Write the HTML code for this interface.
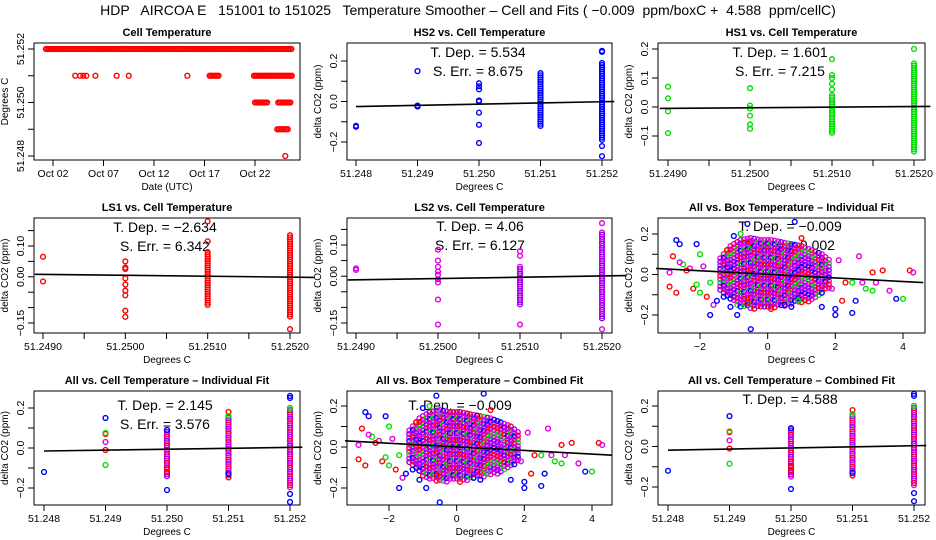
<!DOCTYPE html>
<html><head><meta charset="utf-8"><style>
html,body{margin:0;padding:0;background:#fff}
svg{display:block;font-family:"Liberation Sans",sans-serif}
</style></head><body>
<svg id="chart" width="936" height="540" viewBox="0 0 936 540" xmlns="http://www.w3.org/2000/svg">
<text x="468" y="15" text-anchor="middle" font-size="14" style="white-space:pre">HDP   AIRCOA E   151001 to 151025   Temperature Smoother – Cell and Fits ( −0.009  ppm/boxC +  4.588  ppm/cellC)</text>
</svg>
<script>
// ---------- DATA ----------
const cellRuns = [[1.3,25.7,51.252],[21.9,25.7,51.251],[22.0,23.2,51.250],[24.3,25.6,51.250],[24.2,25.3,51.249],[17.5,18.5,51.251]];
const cellSingles = [[4.2,51.251],[4.7,51.251],[5.0,51.251],[5.3,51.251],[6.2,51.251],[8.3,51.251],[9.5,51.251],[15.3,51.251],[25.0,51.248]];
const dayTicks = [2,7,12,17,22];
const dayLabels = ["Oct 02","Oct 07","Oct 12","Oct 17","Oct 22"];

const hs2X = [51.248,51.248,51.249,51.249,51.249,51.250,51.250,51.250,51.250,51.250,51.250,51.250,51.250,51.252,51.252,51.252,51.252,51.252];
const hs2Y = [-0.12,-0.125,0.15,-0.02,-0.025,0.09,0.075,0.06,0.005,0,-0.055,-0.115,-0.205,0.25,0.245,0.19,-0.22,-0.27];
const hs2ColX = [51.251,51.252];
const hs2ColLo = [-0.13,-0.19];
const hs2ColHi = [0.14,0.18];
const hs2Fit = [-0.025,0.0];

const hs1X = [51.249,51.249,51.249,51.249,51.250,51.250,51.250,51.250,51.250,51.250,51.251,51.251,51.251,51.251,51.251,51.252];
const hs1Y = [0.07,0.03,-0.015,-0.09,0.065,0.005,-0.005,-0.03,-0.06,-0.075,0.11,0.1,0.08,0.06,0.165,0.2];
const hs1ColX = [51.251,51.252];
const hs1ColLo = [-0.09,-0.16];
const hs1ColHi = [0.04,0.15];
const hs1Fit = [-0.005,0.002];

const ls1X = [51.249,51.249,51.250,51.250,51.250,51.250,51.250,51.250,51.250,51.250,51.250,51.251,51.251,51.252];
const ls1Y = [0.065,-0.015,0.05,0.03,0.025,-0.005,-0.025,-0.045,-0.06,-0.11,-0.13,0.115,0.18,-0.17];
const ls1ColX = [51.251,51.252];
const ls1ColLo = [-0.095,-0.13];
const ls1ColHi = [0.08,0.135];
const ls1Fit = [0.008,-0.002];

const ls2X = [51.249,51.249,51.250,51.250,51.250,51.250,51.250,51.250,51.250,51.250,51.250,51.251,51.251,51.251,51.252,51.252];
const ls2Y = [0.025,0.02,0.085,0.05,0.03,0.015,0.005,-0.01,-0.02,-0.075,-0.155,0.08,0.065,-0.155,0.17,-0.17];
const ls2ColX = [51.251,51.252];
const ls2ColLo = [-0.09,-0.14];
const ls2ColHi = [0.03,0.14];
const ls2Fit = [-0.012,0.002];

const allX = [51.248,51.249,51.249,51.249,51.249,51.249,51.249,51.250,51.250,51.250,51.250,51.251,51.251,51.251,51.252,51.252,51.252,51.252,51.252];
const allY = [-0.12,0.15,0.07,0.075,0.03,-0.01,-0.085,-0.21,-0.12,-0.1,0.09,0.18,0.16,-0.13,0.25,0.26,0.2,-0.23,-0.27];
const allC = ["b","b","r","g","m","r","g","b","r","r","b","r","g","b","b","b","g","b","b"];
const allColX = [51.250,51.251,51.252];
const allColLo = [-0.15,-0.15,-0.2];
const allColHi = [0.09,0.15,0.2];
const allFitInd = [-0.015,0.004];
const allFitComb = [-0.018,0.005];

const coreX = [-1.4,-1.1,-0.8,-0.5,-0.2,0.1,0.4,0.7,1.0,1.3,1.6,1.9];
const coreLo = [-0.08,-0.13,-0.16,-0.17,-0.17,-0.17,-0.16,-0.15,-0.14,-0.13,-0.1,-0.06];
const coreHi = [0.08,0.14,0.17,0.18,0.17,0.17,0.16,0.15,0.14,0.12,0.1,0.06];
const boxX = [-2.9,-2.8,-2.7,-2.7,-2.6,-2.5,-2.3,-2.2,-2.1,-2.1,-2.0,-2.0,-1.9,-1.8,-1.7,-1.7,-1.6,-1.5,-1.3,-1.2,-1.1,-1.0,-0.9,-0.8,-0.6,-0.5,0.1,0.5,0.7,0.9,1.0,1.6,1.9,2.0,2.0,2.1,2.2,2.3,2.5,2.5,2.6,2.7,2.9,3.1,3.1,3.2,3.4,3.6,3.8,4.0,4.2,4.3,-2.9,-2.6,-2.4,2.8,0.8,-0.6];
const boxY = [0.01,0.09,0.17,-0.09,0.15,0.05,0.03,-0.07,0.15,-0.05,0.10,-0.09,0.04,-0.11,-0.04,-0.2,-0.15,-0.13,-0.11,0.12,-0.16,0.19,-0.2,0.2,-0.14,-0.27,-0.17,-0.15,-0.16,-0.13,0.18,-0.16,-0.07,-0.17,-0.2,0.07,-0.13,-0.04,-0.04,-0.19,-0.13,0.09,-0.07,-0.08,0.01,-0.04,0.02,-0.08,-0.12,-0.12,0.02,0.01,-0.06,0.06,0.02,-0.04,0.26,0.25];
const boxC = ["m","r","b","r","b","g","m","r","b","g","g","g","m","r","g","b","m","b","b","r","b","b","b","g","r","b","r","b","b","g","r","b","m","b","b","m","r","r","g","b","b","m","g","g","r","m","r","m","b","g","r","m","r","m","r","m","b","b"];
const boxFit = [0.03,-0.04];

// ---------- DRAWING ----------
const svg = document.getElementById('chart');
const NS = 'http://www.w3.org/2000/svg';
const COL = {r:'#ff0000', g:'#00e000', b:'#0000ff', m:'#e000e0'};
function el(tag, attrs, parent){ const e=document.createElementNS(NS,tag); for(const k in attrs) e.setAttribute(k,attrs[k]); (parent||svg).appendChild(e); return e; }
function lin(d0,p0,d1,p1){ return v => p0 + (v-d0)*(p1-p0)/(d1-d0); }
function txt(parent,x,y,s,size,opts){ const t=el('text',Object.assign({x:x,y:y,'font-size':size,'text-anchor':'middle'},opts||{}),parent); t.textContent=s; return t; }

function frame(name, box, title, xs, ys, xt, xl, yt, yl, xlab, ylab){
  const g = el('g',{});
  
  
  const r = el('rect',{x:box.l,y:box.t,width:box.r-box.l,height:box.b-box.t,fill:'none',stroke:'#000','stroke-width':1},g);
  
  
  const tt = txt(g,(box.l+box.r)/2,box.t-7,title,11,{'font-weight':'bold'});
  
  
  const xa = el('g',{},g);
  
  
  el('line',{x1:xs(xt[0]),x2:xs(xt[xt.length-1]),y1:box.b,y2:box.b,stroke:'#000'},xa);
  xt.forEach((v,i)=>{ el('line',{x1:xs(v),x2:xs(v),y1:box.b,y2:box.b+6,stroke:'#000'},xa);
    if(xl[i]!=='') txt(xa,xs(v),box.b+17,xl[i],10.5); });
  const xlt = txt(g,(box.l+box.r)/2,box.b+30,xlab,10);
  
  
  const ya = el('g',{},g);
  
  
  el('line',{x1:box.l,x2:box.l,y1:ys(yt[0]),y2:ys(yt[yt.length-1]),stroke:'#000'},ya);
  yt.forEach((v,i)=>{ const y=ys(v); el('line',{x1:box.l-6,x2:box.l,y1:y,y2:y,stroke:'#000'},ya);
    if(yl[i]!==''){ txt(ya,box.l-10,y,yl[i],10.5,{transform:`rotate(-90 ${box.l-10} ${y})`}); } });
  const ylt = txt(g,box.l-26,(box.t+box.b)/2,ylab,10,{transform:`rotate(-90 ${box.l-26} ${(box.t+box.b)/2})`});
  
  
  return g;
}
function pt(g,x,y,c){ el('circle',{cx:x,cy:y,r:2.4,fill:'none',stroke:c,'stroke-width':1.4},g); }
function fitLine(g,xs,ys,x0,x1,y0,y1){
  const l = el('line',{x1:xs(x0),x2:xs(x1),y1:ys(y0),y2:ys(y1),stroke:'#000','stroke-width':1.6},g);
  
  
}
function annot(g,x,y,lines){ lines.forEach((s,i)=>{ const t=txt(g,x,y+i*19,s,14);
  
   }); }
function cols(g,xs,ys,cx,lo,hi,colors){
  cx.forEach((v,i)=>{ const ya=ys(hi[i]), yb=ys(lo[i]); let k=0;
    for(let y=ya;y<=yb+0.1;y+=2.2){ pt(g,xs(v),y,colors[k%colors.length]); k++; } });
}

(function(){
  const box={l:34,r:300,t:43,b:160};
  const xs=lin(2,53,22,255), ys=lin(51.248,156,51.252,49);
  const g=frame('cell-temperature-panel',box,'Cell Temperature',xs,ys,dayTicks,dayLabels,
    [51.248,51.249,51.25,51.251,51.252],['51.248','','51.250','','51.252'],'Date (UTC)','Degrees C');
  cellRuns.forEach(r=>{ for(let d=r[0]; d<=r[1]+1e-6; d+=0.15) pt(g,xs(d),ys(r[2]),'#ff0000'); });
  cellSingles.forEach(p=>pt(g,xs(p[0]),ys(p[1]),'#ff0000'));
})();

const cellTicks3=[51.248,51.249,51.25,51.251,51.252], cellLab3=['51.248','51.249','51.250','51.251','51.252'];
const cellTicks4=[51.249,51.2495,51.25,51.2505,51.251,51.2515,51.252], cellLab4=['51.2490','','51.2500','','51.2510','','51.2520'];

function cellPanel(name,box,title,xs,ys,yt,yl,X,Y,C,cx,lo,hi,colColors,fit,fx,ann,ax,ay,xt,xl){
  const g=frame(name,box,title,xs,ys,xt,xl,yt,yl,'Degrees C','delta CO2 (ppm)');
  annot(g,ax,ay,ann);
  cols(g,xs,ys,cx,lo,hi,colColors);
  X.forEach((v,i)=>pt(g,xs(v),ys(Y[i]),COL[C[i]]||C[i]));
  fitLine(g,xs,ys,fx[0],fx[1],fit[0],fit[1]);
}
const rep=(c,n)=>Array(n).fill(c);

cellPanel('hs2-panel',{l:347,r:612,t:43,b:160},'HS2 vs. Cell Temperature',lin(51.248,356,51.252,602),lin(-0.2,142,0.2,61),
  [-0.2,-0.1,0,0.1,0.2],['−0.2','','0.0','','0.2'],hs2X,hs2Y,rep('b',hs2X.length),hs2ColX,hs2ColLo,hs2ColHi,['#0000ff'],hs2Fit,[51.248,51.2522],
  ['T. Dep. =  5.534','S. Err. =  8.675'],478,57,cellTicks3,cellLab3);
cellPanel('hs1-panel',{l:658,r:925,t:43,b:160},'HS1 vs. Cell Temperature',lin(51.249,668,51.252,914),lin(-0.1,136,0.2,49),
  [-0.1,0,0.1,0.2],['−0.1','0.0','0.1','0.2'],hs1X,hs1Y,rep('g',hs1X.length),hs1ColX,hs1ColLo,hs1ColHi,['#00e000'],hs1Fit,[51.2489,51.2522],
  ['T. Dep. =  1.601','S. Err. =  7.215'],780,57,cellTicks4,cellLab4);
cellPanel('ls1-panel',{l:34,r:300,t:218,b:333},'LS1 vs. Cell Temperature',lin(51.249,43,51.252,290),lin(-0.15,323,0.10,246),
  [-0.15,-0.1,-0.05,0,0.05,0.1,0.15],['−0.15','','','0.00','','0.10',''],ls1X,ls1Y,rep('r',ls1X.length),ls1ColX,ls1ColLo,ls1ColHi,['#ff0000'],ls1Fit,[51.2489,51.2523],
  ['T. Dep. =  −2.634','S. Err. =  6.342'],165,232,cellTicks4,cellLab4);
cellPanel('ls2-panel',{l:347,r:612,t:218,b:333},'LS2 vs. Cell Temperature',lin(51.249,356,51.252,602),lin(-0.15,323,0.10,245),
  [-0.15,-0.1,-0.05,0,0.05,0.1,0.15],['−0.15','','','0.00','','0.10',''],ls2X,ls2Y,rep('m',ls2X.length),ls2ColX,ls2ColLo,ls2ColHi,['#e000e0','#8000ff'],ls2Fit,[51.2489,51.2523],
  ['T. Dep. =  4.06','S. Err. =  6.127'],480,231,cellTicks4,cellLab4);
cellPanel('all-cell-individual-panel',{l:34,r:300,t:391,b:505},'All vs. Cell Temperature – Individual Fit',lin(51.248,44,51.252,290),lin(-0.2,488,0.2,408),
  [-0.2,-0.1,0,0.1,0.2],['−0.2','','0.0','','0.2'],allX,allY,allC,allColX,allColLo,allColHi,['#e000e0','#8000ff','#e000e0','#ff0000'],allFitInd,[51.248,51.2522],
  ['T. Dep. =  2.145','S. Err. =  3.576'],165,410,cellTicks3,cellLab3);
cellPanel('all-cell-combined-panel',{l:658,r:925,t:391,b:505},'All vs. Cell Temperature – Combined Fit',lin(51.248,668,51.252,914),lin(-0.2,487,0.2,406),
  [-0.2,-0.1,0,0.1,0.2],['−0.2','','0.0','','0.2'],allX,allY,allC,allColX,allColLo,allColHi,['#e000e0','#8000ff','#e000e0','#ff0000'],allFitComb,[51.248,51.2522],
  ['T. Dep. =  4.588'],790,404,cellTicks3,cellLab3);

function boxPanel(name,box,title,xs,ys,ann,ax,ay){
  const g=frame(name,box,title,xs,ys,[-2,0,2,4],['−2','0','2','4'],[-0.2,-0.1,0,0.1,0.2],['−0.2','','0.0','','0.2'],'Degrees C','delta CO2 (ppm)');
  annot(g,ax,ay,ann);
  const cc=['#e000e0','#8000ff','#e000e0','#0000ff','#e000e0','#ff0000','#e000e0','#00e000'];
  let k=0;
  for(let i=0;i<coreX.length-1;i++){
    const xa=xs(coreX[i]), xb=xs(coreX[i+1]);
    for(let x=xa;x<xb;x+=3.5){
      const f=(x-xa)/(xb-xa);
      const hi=coreHi[i]+(coreHi[i+1]-coreHi[i])*f, lo=coreLo[i]+(coreLo[i+1]-coreLo[i])*f;
      for(let y=ys(hi);y<=ys(lo);y+=3.5){ pt(g,x,y,cc[k%cc.length]); k++; }
    }
  }
  boxX.forEach((v,i)=>pt(g,xs(v),ys(boxY[i]),COL[boxC[i]]));
  fitLine(g,xs,ys,-3.3,4.6,boxFit[0],boxFit[1]);
}
boxPanel('all-box-individual-panel',{l:658,r:925,t:218,b:333},'All vs. Box Temperature – Individual Fit',lin(-2,700,4,903),lin(-0.2,315,0.2,234),
  ['T. Dep. =  −0.009','S. Err. =  0.002'],790,231);
boxPanel('all-box-combined-panel',{l:347,r:612,t:391,b:505},'All vs. Box Temperature – Combined Fit',lin(-2,389,4,592),lin(-0.2,488,0.2,406),
  ['T. Dep. =  −0.009'],460,410);
</script>
</body></html>
